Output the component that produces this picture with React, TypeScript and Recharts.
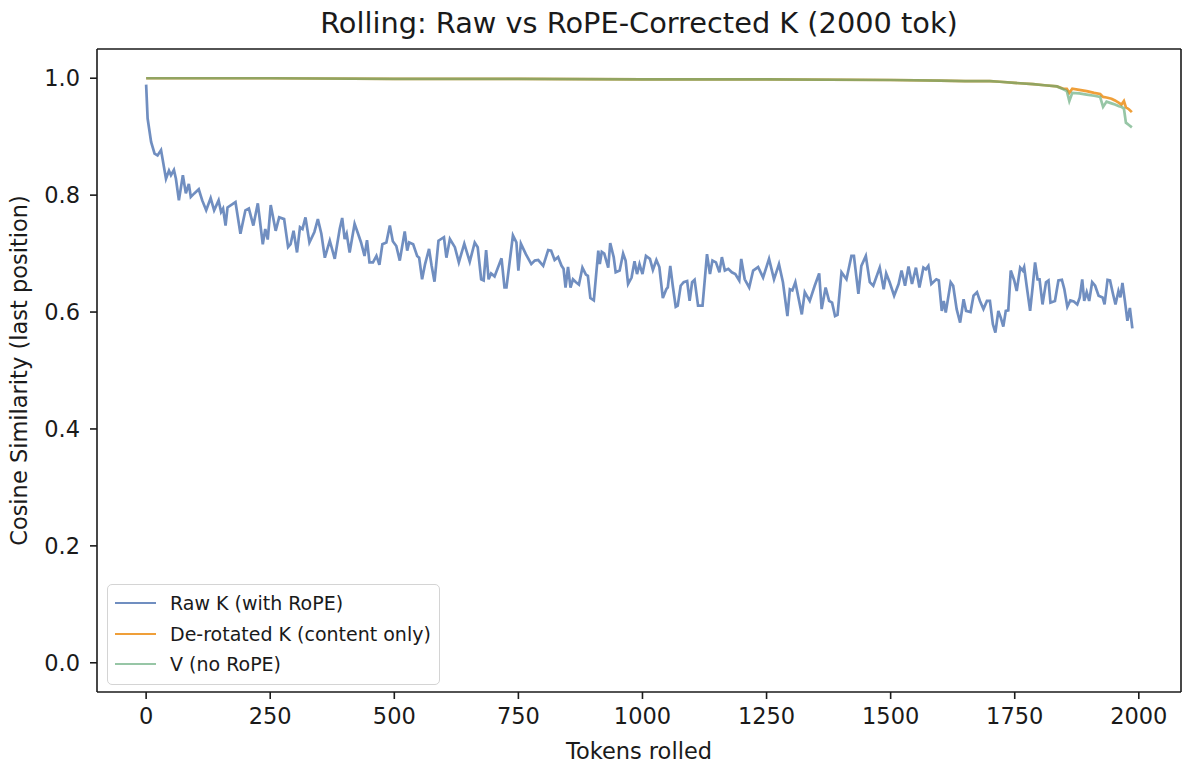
import React from "react";
import { Legend, Line, LineChart, ReferenceLine, XAxis, YAxis } from "recharts";

const font = "'DejaVu Sans', 'Noto Sans', sans-serif";

// raw K (with RoPE)
const rawTokens = [
  0, 3, 10, 17, 23, 30, 40, 46, 50, 56, 60, 66, 74, 80, 86, 90, 97, 106, 113, 121, 130, 137, 146, 151, 155, 160, 164, 180,
  190, 200, 207, 216, 225, 235, 240, 245, 251, 261, 268, 278, 286, 291, 297, 304, 310, 315, 321, 329, 339, 346, 353, 360,
  370, 380, 390, 395, 400, 404, 410, 420, 427, 433, 440, 445, 450, 457, 464, 470, 476, 484, 491, 497, 504, 511, 521, 526,
  530, 538, 546, 550, 556, 562, 570, 575, 581, 589, 600, 605, 612, 622, 630, 641, 652, 662, 668, 675, 680, 685, 690, 695,
  702, 716, 722, 726, 739, 746, 750, 755, 765, 776, 783, 790, 800, 810, 816, 823, 830, 837, 841, 845, 850, 855, 860, 866,
  872, 879, 886, 890, 895, 902, 911, 914, 918, 923, 931, 935, 942, 946, 954, 961, 966, 971, 978, 984, 989, 994, 1000, 1007,
  1015, 1021, 1028, 1034, 1041, 1048, 1051, 1056, 1061, 1067, 1071, 1077, 1083, 1090, 1095, 1100, 1105, 1112, 1121, 1130,
  1136, 1141, 1148, 1155, 1160, 1166, 1173, 1180, 1187, 1195, 1199, 1206, 1215, 1223, 1233, 1243, 1255, 1265, 1275, 1283,
  1292, 1297, 1302, 1308, 1321, 1327, 1337, 1347, 1356, 1361, 1369, 1376, 1382, 1388, 1393, 1401, 1411, 1421, 1426, 1435,
  1441, 1450, 1458, 1465, 1478, 1486, 1491, 1498, 1507, 1516, 1522, 1529, 1536, 1543, 1551, 1558, 1566, 1571, 1576, 1582,
  1592, 1597, 1603, 1607, 1611, 1621, 1626, 1633, 1640, 1647, 1652, 1661, 1667, 1674, 1680, 1687, 1694, 1700, 1706, 1711,
  1717, 1722, 1727, 1732, 1737, 1742, 1749, 1754, 1761, 1766, 1769, 1774, 1781, 1786, 1791, 1796, 1800, 1806, 1813, 1818,
  1822, 1831, 1838, 1845, 1850, 1856, 1862, 1869, 1876, 1881, 1886, 1890, 1895, 1900, 1906, 1912, 1919, 1927, 1931, 1937,
  1942, 1948, 1953, 1959, 1963, 1967, 1972, 1977, 1982, 1987
];
const rawK = [
  0.989, 0.931, 0.891, 0.871, 0.868, 0.877, 0.828, 0.842, 0.834, 0.843, 0.828, 0.791, 0.834, 0.803, 0.819, 0.797, 0.803,
  0.81, 0.791, 0.774, 0.795, 0.774, 0.791, 0.771, 0.777, 0.748, 0.779, 0.788, 0.734, 0.774, 0.777, 0.748, 0.786, 0.716,
  0.742, 0.724, 0.783, 0.739, 0.762, 0.759, 0.711, 0.716, 0.739, 0.702, 0.745, 0.742, 0.762, 0.719, 0.737, 0.759, 0.734,
  0.693, 0.722, 0.691, 0.742, 0.761, 0.725, 0.734, 0.702, 0.751, 0.734, 0.719, 0.696, 0.723, 0.685, 0.685, 0.696, 0.681,
  0.716, 0.719, 0.748, 0.721, 0.713, 0.688, 0.738, 0.705, 0.719, 0.716, 0.696, 0.693, 0.656, 0.682, 0.708, 0.68, 0.652,
  0.722, 0.728, 0.693, 0.725, 0.711, 0.685, 0.717, 0.686, 0.719, 0.711, 0.656, 0.654, 0.706, 0.656, 0.666, 0.661, 0.692,
  0.642, 0.642, 0.731, 0.719, 0.671, 0.717, 0.699, 0.682, 0.688, 0.689, 0.679, 0.706, 0.705, 0.689, 0.694, 0.679, 0.674,
  0.642, 0.677, 0.642, 0.656, 0.651, 0.647, 0.676, 0.664, 0.662, 0.624, 0.62, 0.705, 0.682, 0.703, 0.7, 0.676, 0.718,
  0.694, 0.668, 0.671, 0.7, 0.688, 0.648, 0.659, 0.687, 0.665, 0.682, 0.665, 0.696, 0.691, 0.672, 0.689, 0.677, 0.624,
  0.639, 0.642, 0.679, 0.645, 0.609, 0.611, 0.645, 0.651, 0.653, 0.619, 0.651, 0.655, 0.611, 0.611, 0.699, 0.665, 0.688,
  0.685, 0.668, 0.694, 0.671, 0.674, 0.668, 0.665, 0.654, 0.691, 0.656, 0.642, 0.671, 0.677, 0.659, 0.691, 0.656, 0.682,
  0.651, 0.593, 0.639, 0.637, 0.651, 0.596, 0.634, 0.619, 0.645, 0.666, 0.605, 0.642, 0.619, 0.616, 0.593, 0.595, 0.668,
  0.656, 0.696, 0.696, 0.631, 0.679, 0.696, 0.651, 0.645, 0.676, 0.639, 0.666, 0.651, 0.628, 0.648, 0.671, 0.645, 0.678,
  0.648, 0.676, 0.642, 0.676, 0.673, 0.679, 0.648, 0.656, 0.654, 0.602, 0.619, 0.599, 0.651, 0.645, 0.605, 0.582, 0.622,
  0.602, 0.6, 0.628, 0.634, 0.619, 0.605, 0.619, 0.619, 0.579, 0.565, 0.602, 0.59, 0.575, 0.602, 0.603, 0.671, 0.654,
  0.636, 0.676, 0.671, 0.677, 0.645, 0.602, 0.642, 0.685, 0.656, 0.656, 0.613, 0.651, 0.654, 0.616, 0.619, 0.654, 0.655,
  0.639, 0.609, 0.62, 0.618, 0.613, 0.625, 0.656, 0.619, 0.634, 0.619, 0.651, 0.645, 0.628, 0.625, 0.613, 0.655, 0.654,
  0.631, 0.613, 0.636, 0.625, 0.65, 0.619, 0.585, 0.607, 0.572
];

// de-rotated K and V share the same sample positions
const topTokens = [
  0, 250, 500, 750, 1000, 1250, 1500, 1600, 1650, 1700, 1720, 1750, 1787, 1810, 1835, 1848, 1855, 1860, 1866, 1880, 1895,
  1910, 1922, 1928, 1935, 1945, 1952, 1960, 1965, 1970, 1974, 1980, 1986
];
const derotatedK = [
  1.0, 1.0, 0.999, 0.999, 0.998, 0.998, 0.997, 0.996, 0.995, 0.995, 0.994, 0.992, 0.99, 0.988, 0.986, 0.982, 0.982, 0.975,
  0.982, 0.98, 0.978, 0.975, 0.973, 0.968, 0.967, 0.965, 0.962, 0.958, 0.955, 0.961, 0.95, 0.947, 0.942
];
const vNoRope = [
  1.0, 1.0, 0.999, 0.999, 0.998, 0.998, 0.997, 0.996, 0.995, 0.995, 0.994, 0.992, 0.99, 0.988, 0.986, 0.981, 0.978, 0.961,
  0.975, 0.974, 0.972, 0.97, 0.968, 0.951, 0.96, 0.957, 0.955, 0.952, 0.951, 0.948, 0.924, 0.92, 0.916
];

const seriesNames = ["Raw K (with RoPE)", "De-rotated K (content only)", "V (no RoPE)"];
const xTicks = [0, 250, 500, 750, 1000, 1250, 1500, 1750, 2000];
const yTicks = [0, 0.2, 0.4, 0.6, 0.8, 1.0];
const xDomain = [-99, 2085];
const yDomain = [-0.05, 1.05];

const rawData = rawTokens.map((t, i) => ({ t, v: rawK[i] }));
const derotData = topTokens.map((t, i) => ({ t, v: derotatedK[i] }));
const vData = topTokens.map((t, i) => ({ t, v: vNoRope[i] }));

const ink = "#1a1a1a";
const tickStyle = { fontSize: 22.5, fill: ink, fontFamily: font };
const spine = { stroke: ink, strokeWidth: 1.6 };

function XLabel({ viewBox }: any) {
  const { x, y, width } = viewBox;
  return (
    <text x={x + width / 2} y={y + 67} textAnchor="middle" fontSize={22.5} fill={ink} fontFamily={font}>
      Tokens rolled
    </text>
  );
}

function YLabel({ viewBox }: any) {
  const { y, height } = viewBox;
  const cx = 19;
  const cy = y + height / 2;
  return (
    <text
      x={cx}
      y={cy}
      transform={`rotate(-90, ${cx}, ${cy})`}
      textAnchor="middle"
      dominantBaseline="central"
      fontSize={22.5}
      fill={ink}
      fontFamily={font}
    >
      Cosine Similarity (last position)
    </text>
  );
}

function LegendBox({ payload }: any) {
  const items = [...(payload || [])].sort(
    (a: any, b: any) => seriesNames.indexOf(a.value) - seriesNames.indexOf(b.value)
  );
  return (
    <div
      style={{
        border: "1.5px solid #d4d4d4",
        borderRadius: 5,
        background: "rgba(255,255,255,0.8)",
        padding: "3px 8px 4px 7px",
        fontFamily: font,
        fontSize: 19,
        color: ink
      }}
    >
      {items.map((entry: any) => (
        <div key={entry.value} style={{ display: "flex", alignItems: "center", height: 30.5 }}>
          <span
            style={{
              display: "inline-block",
              width: 41,
              height: 0,
              borderTop: `2.5px solid ${entry.color}`,
              opacity: entry.payload?.strokeOpacity ?? 1,
              marginRight: 14
            }}
          />
          <span style={{ whiteSpace: "nowrap" }}>{entry.value}</span>
        </div>
      ))}
    </div>
  );
}

export default function App() {
  return (
    <div style={{ position: "absolute", left: 0, top: 0, width: 1200, height: 780, background: "#fff" }}>
      <div
        style={{
          position: "absolute",
          left: 97,
          width: 1084,
          top: 9,
          textAlign: "center",
          fontFamily: font,
          fontSize: 28.8,
          lineHeight: "28.8px",
          color: ink,
          whiteSpace: "nowrap"
        }}
      >
        Rolling: Raw vs RoPE-Corrected K (2000 tok)
      </div>
      <LineChart width={1200} height={780} margin={{ top: 49, right: 19, bottom: 28, left: 0 }}>
        <XAxis
          dataKey="t"
          type="number"
          domain={xDomain}
          ticks={xTicks}
          allowDataOverflow
          height={60}
          tickSize={7}
          tickMargin={9}
          tick={tickStyle}
          axisLine={spine}
          tickLine={spine}
          label={<XLabel />}
        />
        <YAxis
          type="number"
          domain={yDomain}
          ticks={yTicks}
          allowDataOverflow
          width={97}
          tickSize={7}
          tickMargin={10}
          tick={tickStyle}
          tickFormatter={(v: number) => v.toFixed(1)}
          axisLine={spine}
          tickLine={spine}
          label={<YLabel />}
        />
        {/* top and right spines */}
        <ReferenceLine y={yDomain[1]} stroke={ink} strokeWidth={1.6} ifOverflow="extendDomain" />
        <ReferenceLine x={xDomain[1]} stroke={ink} strokeWidth={1.6} ifOverflow="extendDomain" />
        <Legend
          layout="vertical"
          align="center"
          verticalAlign="middle"
          content={<LegendBox />}
          wrapperStyle={{ left: 107, top: 584, width: "auto", height: "auto" }}
        />
        <Line
          data={rawData}
          dataKey="v"
          name={seriesNames[0]}
          type="linear"
          stroke="#4C72B0"
          strokeOpacity={0.8}
          strokeWidth={2.7}
          dot={false}
          isAnimationActive={false}
        />
        <Line
          data={derotData}
          dataKey="v"
          name={seriesNames[1]}
          type="linear"
          stroke="#EE9A2E"
          strokeOpacity={0.95}
          strokeWidth={2.7}
          dot={false}
          isAnimationActive={false}
        />
        <Line
          data={vData}
          dataKey="v"
          name={seriesNames[2]}
          type="linear"
          stroke="#5FA777"
          strokeOpacity={0.65}
          strokeWidth={2.7}
          dot={false}
          isAnimationActive={false}
        />
      </LineChart>
    </div>
  );
}
